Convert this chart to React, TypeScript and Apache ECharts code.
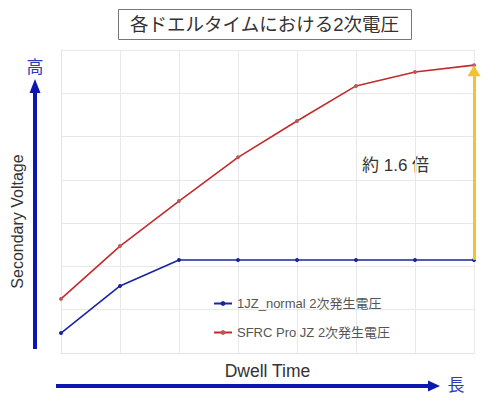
import { useEffect, useRef } from 'react'
import * as echarts from 'echarts'

const dwellSteps = ['t1', 't2', 't3', 't4', 't5', 't6', 't7', 't8']
const normalVoltage = [0.46, 1.55, 2.15, 2.15, 2.15, 2.15, 2.15, 2.15]
const sfrcVoltage = [1.25, 2.47, 3.51, 4.52, 5.36, 6.17, 6.49, 6.65]
const seriesNames = ['1JZ_normal 2次発生電圧', 'SFRC Pro JZ 2次発生電圧']

const FONT = '"Liberation Sans", "Noto Sans CJK JP", sans-serif'
const ARROW_BLUE = '#0c16b0'

function App() {
  const chartRef = useRef<HTMLDivElement>(null)

  useEffect(() => {
    document.body.style.margin = '0'
    if (!chartRef.current) return
    const chart = echarts.init(chartRef.current, undefined, { renderer: 'svg' })

    const option: echarts.EChartsOption = {
      animation: false,
      backgroundColor: '#ffffff',
      textStyle: { fontFamily: FONT },
      title: {
        text: '各ドエルタイムにおける2次電圧',
        left: 118,
        top: 9,
        padding: [6, 12],
        borderColor: '#777',
        borderWidth: 1,
        textStyle: { fontSize: 18.5, fontWeight: 'normal', color: '#333', fontFamily: FONT },
      },
      grid: { left: 61, right: 26, top: 50, bottom: 49 },
      legend: {
        orient: 'vertical',
        left: 208,
        top: 292,
        itemGap: 16,
        itemWidth: 18,
        itemHeight: 6,
        textStyle: { fontSize: 13, color: '#555', fontFamily: FONT },
        data: seriesNames,
      },
      xAxis: {
        type: 'category',
        data: dwellSteps,
        boundaryGap: false,
        name: 'Dwell Time',
        nameLocation: 'middle',
        nameGap: 9,
        nameTextStyle: { fontSize: 17.5, color: '#333', fontFamily: FONT, verticalAlign: 'top' },
        axisLine: { lineStyle: { color: '#e4e4e4' } },
        axisTick: { show: false },
        axisLabel: { show: false },
        splitLine: { show: true, lineStyle: { color: '#e8e8e8' } },
      },
      yAxis: {
        type: 'value',
        min: 0,
        max: 7,
        interval: 1,
        name: 'Secondary Voltage',
        nameLocation: 'middle',
        nameGap: 36,
        nameRotate: 90,
        nameTextStyle: { fontSize: 16, color: '#333', fontFamily: FONT, padding: [0, 40, 0, 0] },
        axisLine: { show: true, lineStyle: { color: '#e4e4e4' } },
        axisTick: { show: false },
        axisLabel: { show: false },
        splitLine: { lineStyle: { color: '#e8e8e8' } },
      },
      series: [
        {
          name: seriesNames[0],
          type: 'line',
          data: normalVoltage,
          symbol: 'circle',
          symbolSize: 4,
          lineStyle: { color: '#1a24a0', width: 1.6 },
          itemStyle: { color: '#1a24a0' },
        },
        {
          name: seriesNames[1],
          type: 'line',
          data: sfrcVoltage,
          symbol: 'circle',
          symbolSize: 4,
          lineStyle: { color: '#c42a2a', width: 1.6 },
          itemStyle: { color: '#b85a5a' },
          markLine: {
            silent: true,
            symbol: ['none', 'triangle'],
            symbolSize: [13, 11],
            label: { show: false },
            lineStyle: { color: '#f2c232', width: 3, type: 'solid' },
            data: [
              [
                { coord: [7, normalVoltage[7]] },
                { coord: [7, sfrcVoltage[7] - 0.13] },
              ],
            ],
          },
        },
      ],
      graphic: [
        {
          type: 'text',
          left: 362,
          top: 157,
          style: { text: '約 1.6 倍', font: `17px ${FONT}`, fill: '#333' },
        },
        // vertical blue arrow
        {
          type: 'line',
          shape: { x1: 35, y1: 349, x2: 35, y2: 90 },
          style: { stroke: ARROW_BLUE, lineWidth: 4 },
        },
        {
          type: 'polygon',
          shape: { points: [[35, 79], [29.5, 93], [40.5, 93]] },
          style: { fill: ARROW_BLUE },
        },
        {
          type: 'text',
          x: 35,
          y: 67,
          style: { text: '高', font: `17px ${FONT}`, fill: '#2a3cb8', align: 'center', verticalAlign: 'middle' },
        },
        // horizontal blue arrow
        {
          type: 'line',
          shape: { x1: 56, y1: 386, x2: 430, y2: 386 },
          style: { stroke: ARROW_BLUE, lineWidth: 4 },
        },
        {
          type: 'polygon',
          shape: { points: [[440, 386], [428, 380.5], [428, 391.5]] },
          style: { fill: ARROW_BLUE },
        },
        {
          type: 'text',
          x: 456,
          y: 385,
          style: { text: '長', font: `17px ${FONT}`, fill: '#2a3cb8', align: 'center', verticalAlign: 'middle' },
        },
      ],
    }

    chart.setOption(option)
    return () => {
      chart.dispose()
    }
  }, [])

  return <div ref={chartRef} style={{ width: '500px', height: '402px' }} />
}

export default App
